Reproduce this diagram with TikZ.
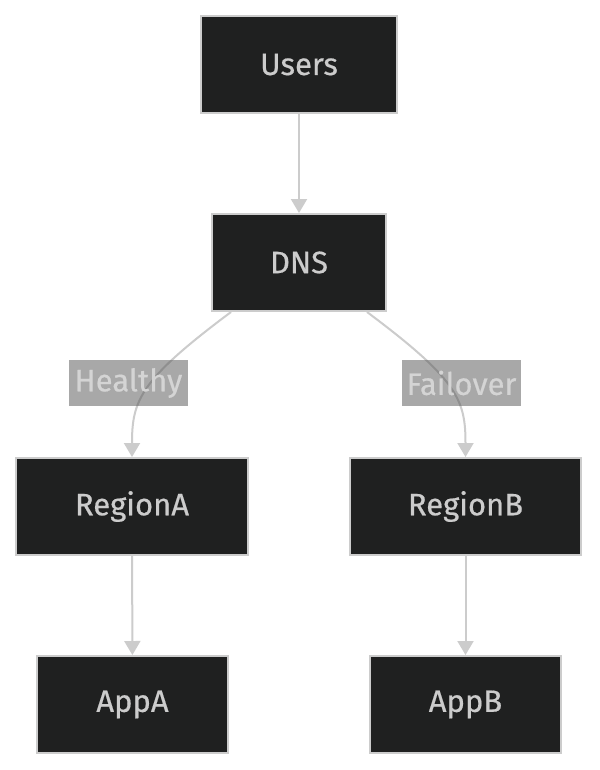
\documentclass[tikz,border=0pt]{standalone}
\usepackage{fontspec}
\setmainfont{Fira Sans}
\newfontfamily\nodefont{Fira Sans}[FakeBold=0.5]
\usetikzlibrary{arrows.meta,calc}
\definecolor{boxfill}{HTML}{1F2020}
\definecolor{boxline}{HTML}{CCCCCC}
\definecolor{txt}{HTML}{CCCCCC}
\definecolor{lblfill}{HTML}{535353}
\definecolor{lbltxt}{HTML}{D4D4D4}
\begin{document}
\begin{tikzpicture}[x=1pt,y=-1pt,
  box/.style={draw=boxline,line width=2pt,fill=boxfill,text=txt,minimum height=97pt,inner sep=0pt,font=\nodefont\fontsize{31}{36}\selectfont},
  lbl/.style={fill=lblfill,fill opacity=0.5,text opacity=1,text=lbltxt,minimum width=119pt,minimum height=46pt,inner sep=0pt,font=\nodefont\fontsize{31}{36}\selectfont},
  conn/.style={draw=boxline,line width=2pt,-{Triangle[width=16pt,length=14pt]}}]
\useasboundingbox[fill=white] (0,0) rectangle (599,770);
\node[box,minimum width=196pt] (users) at (299,64.5) {Users};
\node[box,minimum width=174pt] (dns) at (299,262.5) {DNS};
\node[box,minimum width=232pt] (ra) at (132,506.5) {RegionA};
\node[box,minimum width=231pt] (rb) at (465.5,506.5) {RegionB};
\node[box,minimum width=191pt] (aa) at (132.5,704.5) {AppA};
\node[box,minimum width=191pt] (ab) at (465.5,704.5) {AppB};
\coordinate (dl) at ($(dns.south west)+(20,0)$);
\coordinate (dr) at ($(dns.south east)+(-20,0)$);
\draw[conn] (users) -- (dns);
\draw[conn] (dl) .. controls (140,380) and (132,400) .. (ra.north);
\draw[conn] (dr) .. controls (458,380) and (465.5,400) .. (rb.north);
\draw[conn] (ra) -- (aa);
\draw[conn] (rb) -- (ab);
\node[lbl] (lh) at (128.5,383) {Healthy};
\node[lbl] (lf) at (461.5,383) {Failover};
\end{tikzpicture}
\end{document}
